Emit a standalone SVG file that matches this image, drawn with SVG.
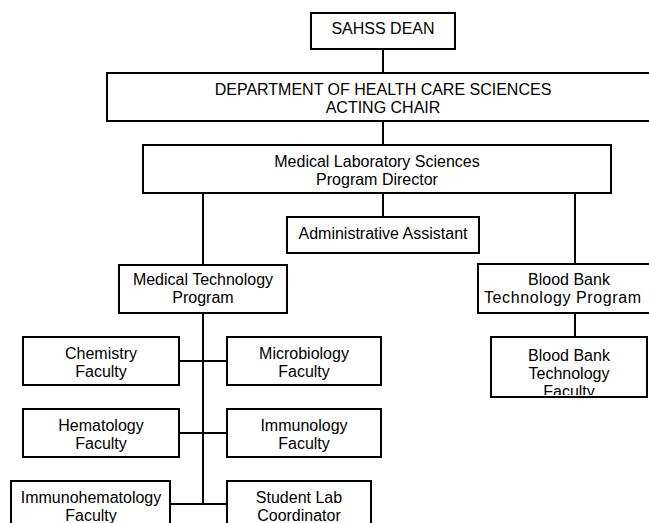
<svg xmlns="http://www.w3.org/2000/svg" width="649" height="523" viewBox="0 0 649 523">
  <defs>
    <style>
      .box { fill: #ffffff; stroke: #000000; stroke-width: 2; }
      .wire { fill: none; stroke: #000000; stroke-width: 2; }
      text { font-family: "Liberation Sans", Arial, sans-serif; font-size: 16px; fill: #000000; text-anchor: middle; }
    </style>
    <clipPath id="bbFacultyClip">
      <rect x="491" y="337" width="156" height="58"/>
    </clipPath>
  </defs>
  <rect width="649" height="523" fill="#ffffff"/>

  <!-- reporting lines -->
  <g id="connectors">
    <line class="wire" x1="383" y1="49" x2="383" y2="73"/>
    <line class="wire" x1="383" y1="121" x2="383" y2="145"/>
    <line class="wire" x1="383" y1="193" x2="383" y2="217"/>
    <line class="wire" x1="203" y1="193" x2="203" y2="265"/>
    <line class="wire" x1="575" y1="193" x2="575" y2="264"/>
    <line class="wire" x1="575" y1="313" x2="575" y2="337"/>
    <line class="wire" x1="203" y1="313" x2="203" y2="505"/>
    <line class="wire" x1="179" y1="361" x2="227" y2="361"/>
    <line class="wire" x1="179" y1="433" x2="227" y2="433"/>
    <line class="wire" x1="170" y1="504" x2="227" y2="504"/>
  </g>

  <g id="dean">
    <rect class="box" x="311" y="13" width="144" height="36"/>
    <text x="383" y="34">SAHSS DEAN</text>
  </g>

  <g id="department-chair">
    <rect class="box" x="107" y="73" width="552" height="48"/>
    <text x="383" y="95">DEPARTMENT OF HEALTH CARE SCIENCES</text>
    <text x="383" y="113">ACTING CHAIR</text>
  </g>

  <g id="program-director">
    <rect class="box" x="143" y="145" width="468" height="48"/>
    <text x="377" y="166.5">Medical Laboratory Sciences</text>
    <text x="377" y="184.5">Program Director</text>
  </g>

  <g id="admin-assistant">
    <rect class="box" x="287" y="217" width="192" height="36"/>
    <text x="383" y="238.5">Administrative Assistant</text>
  </g>

  <g id="medtech-program">
    <rect class="box" x="119" y="265" width="168" height="48"/>
    <text x="203" y="285">Medical Technology</text>
    <text x="203" y="303">Program</text>
  </g>

  <g id="bloodbank-program">
    <rect class="box" x="478" y="264" width="182" height="49"/>
    <text x="569" y="285">Blood Bank</text>
    <text x="562.5" y="303" textLength="157" lengthAdjust="spacing">Technology Program</text>
  </g>

  <g id="bloodbank-faculty">
    <rect class="box" x="491" y="337" width="156" height="60"/>
    <g clip-path="url(#bbFacultyClip)">
      <text x="569" y="361">Blood Bank</text>
      <text x="569" y="379">Technology</text>
      <text x="569" y="397">Faculty</text>
    </g>
  </g>

  <g id="chemistry">
    <rect class="box" x="23" y="337" width="156" height="48"/>
    <text x="101" y="358.5">Chemistry</text>
    <text x="101" y="377">Faculty</text>
  </g>

  <g id="microbiology">
    <rect class="box" x="227" y="337" width="154" height="48"/>
    <text x="304" y="358.5">Microbiology</text>
    <text x="304" y="377">Faculty</text>
  </g>

  <g id="hematology">
    <rect class="box" x="23" y="409" width="156" height="48"/>
    <text x="101" y="430.5">Hematology</text>
    <text x="101" y="449">Faculty</text>
  </g>

  <g id="immunology">
    <rect class="box" x="227" y="409" width="154" height="48"/>
    <text x="304" y="430.5">Immunology</text>
    <text x="304" y="449">Faculty</text>
  </g>

  <g id="immunohematology">
    <rect class="box" x="11" y="481" width="159" height="50"/>
    <text x="91" y="502.5">Immunohematology</text>
    <text x="91" y="521">Faculty</text>
  </g>

  <g id="student-lab">
    <rect class="box" x="227" y="481" width="144" height="50"/>
    <text x="299" y="502.5">Student Lab</text>
    <text x="299" y="521">Coordinator</text>
  </g>
</svg>
